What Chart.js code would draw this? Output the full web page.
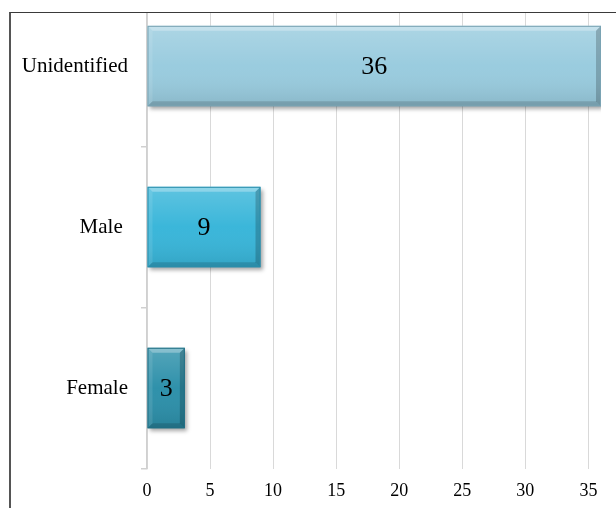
<!DOCTYPE html>
<html>
<head>
<meta charset="utf-8">
<script src="https://cdn.jsdelivr.net/npm/chart.js@4/dist/chart.umd.min.js"></script>
<style>
  html, body { margin: 0; padding: 0; background: #fff; width: 616px; height: 508px; overflow: hidden; }
  #frame { position: absolute; left: 9px; top: 12px; width: 605px; height: 496px;
           border-left: 2px solid #555; border-top: 1px solid #3a3a3a; overflow: hidden; }
  #holder { position: absolute; left: 0; top: -53px; width: 605px; height: 548px; }
</style>
</head>
<body>
<div id="frame"><div id="holder"><canvas id="c" width="605" height="548"></canvas></div></div>
<script>
const categories = ["Unidentified", "Male ", "Female"];
const counts = [36, 9, 3];
const xTicks = [0, 5, 10, 15, 20, 25, 30, 35];
const barColors = ["#98cbde", "#37b5d9", "#2b8fa9"];
const barBorders = ["#7aa3b3", "#2a8dab", "#216f84"];

const serif = "'Liberation Serif', 'Times New Roman', serif";

const shadowPlugin = {
  id: 'shadow',
  beforeDatasetsDraw(chart) {
    const ctx = chart.ctx;
    ctx.save();
    ctx.shadowColor = 'rgba(0,0,0,0.35)';
    ctx.shadowBlur = 4;
    ctx.shadowOffsetX = 2;
    ctx.shadowOffsetY = 3;
  },
  afterDatasetsDraw(chart) {
    const ctx = chart.ctx;
    ctx.restore();
    const meta = chart.getDatasetMeta(0);
    meta.data.forEach((el, i) => {
      const p = el.getProps(['x', 'y', 'base', 'height'], true);
      const x0 = Math.min(p.base, p.x), x1 = Math.max(p.base, p.x);
      const y0 = p.y - p.height / 2, y1 = p.y + p.height / 2;
      const b = 5;
      ctx.save();
      const g = ctx.createLinearGradient(0, y0, 0, y1);
      g.addColorStop(0, 'rgba(255,255,255,0.20)');
      g.addColorStop(0.5, 'rgba(255,255,255,0.02)');
      g.addColorStop(1, 'rgba(0,0,0,0.10)');
      ctx.fillStyle = g;
      ctx.fillRect(x0, y0, x1 - x0, y1 - y0);
      ctx.fillStyle = 'rgba(255,255,255,0.30)';
      ctx.beginPath(); ctx.moveTo(x0, y0); ctx.lineTo(x1, y0); ctx.lineTo(x1 - b, y0 + b); ctx.lineTo(x0 + b, y0 + b); ctx.closePath(); ctx.fill();
      ctx.fillStyle = 'rgba(255,255,255,0.10)';
      ctx.beginPath(); ctx.moveTo(x0, y0); ctx.lineTo(x0 + b, y0 + b); ctx.lineTo(x0 + b, y1 - b); ctx.lineTo(x0, y1); ctx.closePath(); ctx.fill();
      ctx.fillStyle = 'rgba(0,0,0,0.14)';
      ctx.beginPath(); ctx.moveTo(x0, y1); ctx.lineTo(x0 + b, y1 - b); ctx.lineTo(x1 - b, y1 - b); ctx.lineTo(x1, y1); ctx.closePath(); ctx.fill();
      ctx.fillStyle = 'rgba(0,0,0,0.20)';
      ctx.beginPath(); ctx.moveTo(x1, y0); ctx.lineTo(x1, y1); ctx.lineTo(x1 - b, y1 - b); ctx.lineTo(x1 - b, y0 + b); ctx.closePath(); ctx.fill();
      ctx.strokeStyle = barBorders[i];
      ctx.lineWidth = 1;
      ctx.strokeRect(x0 + 0.5, y0 + 0.5, x1 - x0 - 1, y1 - y0 - 1);
      ctx.fillStyle = '#000';
      ctx.font = '26px ' + serif;
      ctx.textAlign = 'center';
      ctx.textBaseline = 'middle';
      ctx.fillText(String(counts[i]), (x0 + x1) / 2, p.y + 1);
      ctx.restore();
    });
  }
};

new Chart(document.getElementById('c'), {
  type: 'bar',
  data: {
    labels: categories,
    datasets: [{
      data: counts,
      backgroundColor: barColors,
      borderWidth: 0,
      barPercentage: 0.5,
      categoryPercentage: 1.0
    }]
  },
  options: {
    indexAxis: 'y',
    responsive: false,
    animation: false,
    events: [],
    layout: { padding: { top: 25.5, right: 15, bottom: 0, left: 0 } },
    plugins: { legend: { display: false }, tooltip: { enabled: false }, title: { display: false } },
    scales: {
      x: {
        type: 'linear',
        min: 0,
        max: 36,
        afterFit(s) { s.height = 39.5; },
        afterBuildTicks(s) { s.ticks = xTicks.map(v => ({ value: v })); },
        ticks: { stepSize: 5, includeBounds: false, padding: 12, color: '#000',
                 font: { family: serif, size: 18 } },
        grid: { color: '#d9d9d9', lineWidth: 1, drawTicks: false },
        border: { display: false }
      },
      y: {
        afterFit(s) { s.width = 136; },
        ticks: { padding: 13, color: '#000', font: { family: serif, size: 21 } },
        grid: { offset: true, drawOnChartArea: false, drawTicks: true, tickLength: 6, color: '#d0d0d0', lineWidth: 1.5 },
        border: { display: true, color: '#d0d0d0', width: 1.5 }
      }
    }
  },
  plugins: [shadowPlugin]
});
</script>
</body>
</html>
